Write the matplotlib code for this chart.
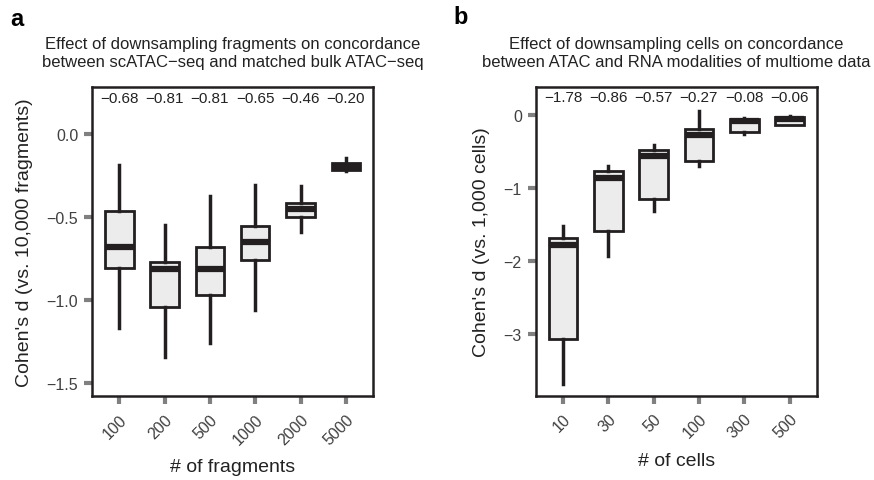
import matplotlib
matplotlib.use("Agg")
import matplotlib.pyplot as plt
from matplotlib.transforms import blended_transform_factory

plt.rcParams['font.family'] = ['Liberation Sans', 'DejaVu Sans']

# ---- Panel a data ----
frag_cats = ["100", "200", "500", "1000", "2000", "5000"]
frag_whislo = [-1.17, -1.34, -1.26, -1.06, -0.59, -0.22]
frag_q1 = [-0.805, -1.044, -0.968, -0.761, -0.498, -0.217]
frag_med = [-0.68, -0.81, -0.81, -0.65, -0.45, -0.20]
frag_q3 = [-0.466, -0.773, -0.679, -0.552, -0.416, -0.177]
frag_whishi = [-0.185, -0.548, -0.375, -0.309, -0.315, -0.147]
frag_labels = ["\u22120.68", "\u22120.81", "\u22120.81", "\u22120.65", "\u22120.46", "\u22120.20"]

# ---- Panel b data ----
cell_cats = ["10", "30", "50", "100", "300", "500"]
cell_whislo = [-3.686, -1.937, -1.314, -0.70, -0.27, -0.147]
cell_q1 = [-3.077, -1.588, -1.154, -0.636, -0.242, -0.137]
cell_med = [-1.785, -0.87, -0.563, -0.275, -0.092, -0.06]
cell_q3 = [-1.685, -0.769, -0.48, -0.196, -0.055, -0.027]
cell_whishi = [-1.525, -0.709, -0.421, 0.055, -0.05, -0.02]
cell_labels = ["\u22121.78", "\u22120.86", "\u22120.57", "\u22120.27", "\u22120.08", "\u22120.06"]

fig = plt.figure(figsize=(8.74, 4.81), dpi=100)
ax1 = fig.add_axes([0.1053, 0.1746, 0.3215, 0.6424])
ax2 = fig.add_axes([0.613, 0.1753, 0.3215, 0.642])

dark = "#231f20"
fill = "#ececec"


def draw(ax, cats, lo, q1, med, q3, hi, labels, ylim, yticks, yticklabels,
         ylabel, xlabel, title, label_y):
    stats = []
    for i in range(len(cats)):
        stats.append(dict(whislo=lo[i], q1=q1[i], med=med[i], q3=q3[i],
                          whishi=hi[i], fliers=[]))
    pos = list(range(1, len(cats) + 1))
    ax.bxp(stats, positions=pos, widths=0.63, patch_artist=True,
           showfliers=False, showcaps=False,
           boxprops=dict(facecolor=fill, edgecolor=dark, linewidth=2.0),
           whiskerprops=dict(color=dark, linewidth=2.5),
           medianprops=dict(color=dark, linewidth=4.5, solid_capstyle='butt'))
    ax.set_xlim(0.4, 6.6)
    ax.set_ylim(*ylim)
    ax.set_yticks(yticks)
    ax.set_yticklabels(yticklabels)
    ax.set_xticks(pos)
    ax.set_xticklabels(cats, rotation=45, ha='right', va='top',
                       rotation_mode='anchor')
    ax.tick_params(axis='both', length=6, width=3, color='#808080',
                   labelsize=11.5, labelcolor='#404040', pad=4)
    ax.tick_params(axis='x', pad=5)
    for s in ax.spines.values():
        s.set_linewidth(1.8)
        s.set_color(dark)
    ax.set_ylabel(ylabel, fontsize=14, color='#222222', labelpad=9.5)
    ax.set_xlabel(xlabel, fontsize=14, color='#222222', labelpad=8)
    ax.set_title(title, fontsize=12, color='#222222', pad=15,
                 linespacing=1.25)
    tr = blended_transform_factory(ax.transData, ax.transAxes)
    for p, t in zip(pos, labels):
        ax.text(p, label_y, t, transform=tr, ha='center', va='center',
                fontsize=11, color='#222222')


draw(ax1, frag_cats, frag_whislo, frag_q1, frag_med, frag_q3, frag_whishi,
     frag_labels, (-1.578, 0.283), [0.0, -0.5, -1.0, -1.5],
     ["0.0", "\u22120.5", "\u22121.0", "\u22121.5"],
     "Cohen's d (vs. 10,000 fragments)", "# of fragments",
     "Effect of downsampling fragments on concordance\n"
     "between scATAC\u2212seq and matched bulk ATAC\u2212seq", 0.965)

draw(ax2, cell_cats, cell_whislo, cell_q1, cell_med, cell_q3, cell_whishi,
     cell_labels, (-3.846, 0.38), [0, -1, -2, -3],
     ["0", "\u22121", "\u22122", "\u22123"],
     "Cohen's d (vs. 1,000 cells)", "# of cells",
     "Effect of downsampling cells on concordance\n"
     "between ATAC and RNA modalities of multiome data", 0.968)

fig.text(10 / 874, 1 - 20 / 481, "a", fontsize=17, fontweight='bold',
         va='center', ha='left')
fig.text(453 / 874, 1 - 18 / 481, "b", fontsize=17, fontweight='bold',
         va='center', ha='left')

fig.savefig("out.png", dpi=100)
